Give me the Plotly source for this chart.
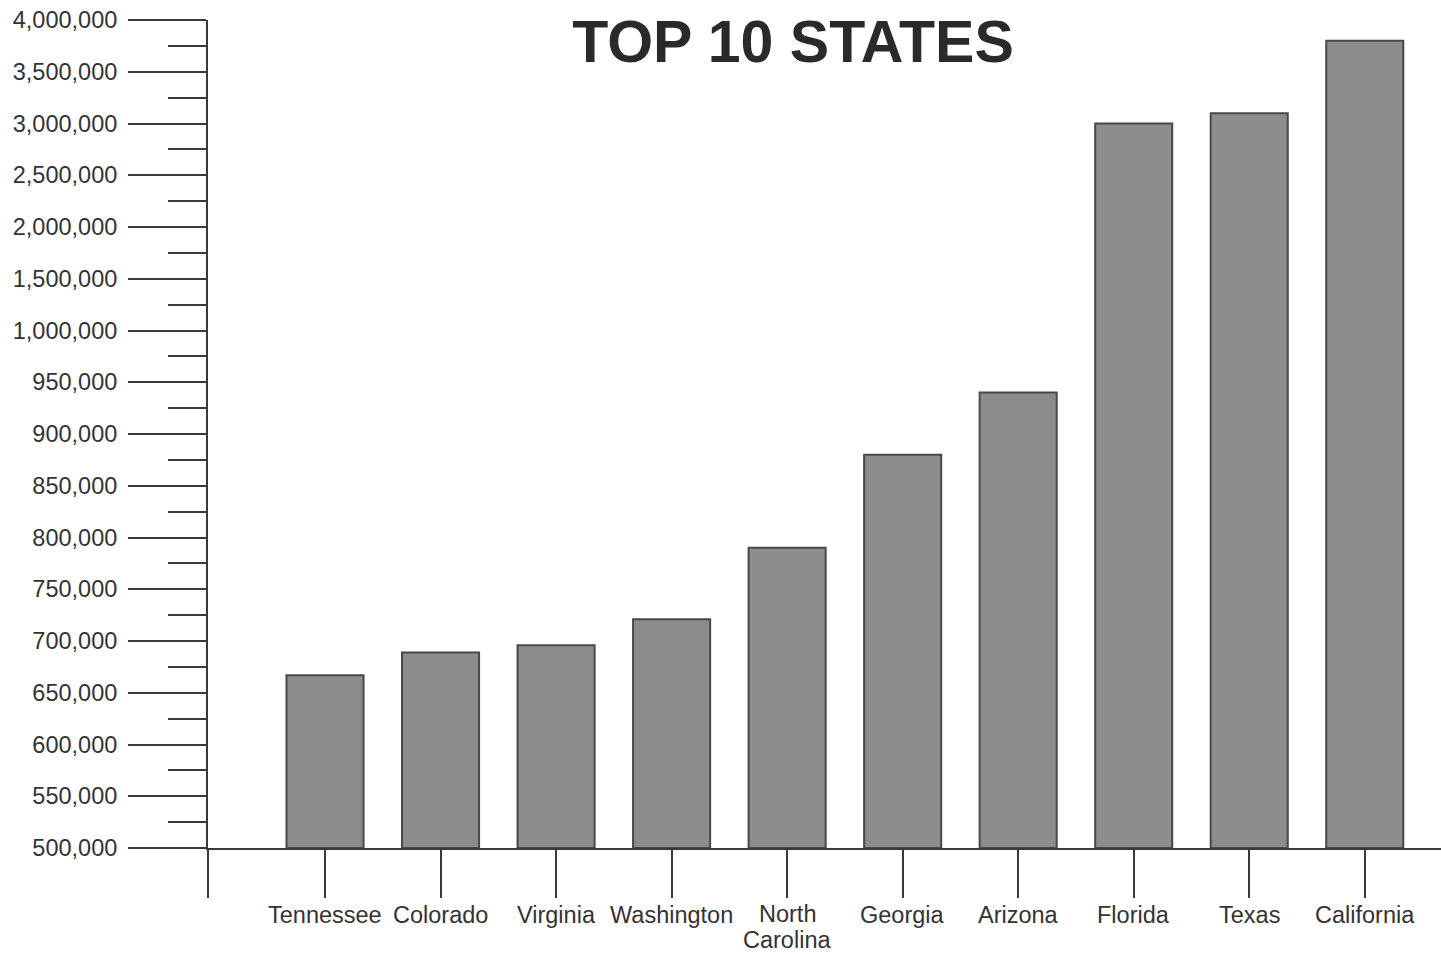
import plotly.graph_objects as go

states = ["Tennessee", "Colorado", "Virginia", "Washington", "North<br>Carolina",
          "Georgia", "Arizona", "Florida", "Texas", "California"]
values = [667000, 689000, 696000, 721000, 790000, 880000, 940000, 3000000, 3100000, 3800000]
tick_labels = ["500,000", "550,000", "600,000", "650,000", "700,000", "750,000", "800,000",
               "850,000", "900,000", "950,000", "1,000,000", "1,500,000", "2,000,000",
               "2,500,000", "3,000,000", "3,500,000", "4,000,000"]


def to_pos(v):
    # axis is broken: 50,000 steps up to 1,000,000, then 500,000 steps
    if v <= 1_000_000:
        return (v - 500_000) / 50_000
    return 10 + (v - 1_000_000) / 500_000


xpos = list(range(len(states)))
ypos = [to_pos(v) for v in values]

AX = "#3a3a3a"
TXT = "#333333"
FONT = "Liberation Sans, Arial, sans-serif"

fig = go.Figure(go.Bar(
    x=xpos, y=ypos, width=0.667,
    marker=dict(color="#8c8c8c", line=dict(color="#484848", width=2)),
    customdata=values,
    hovertemplate="%{customdata:,}<extra></extra>",
))

fig.update_layout(
    width=1441, height=954,
    margin=dict(l=208, r=0, t=20, b=106),
    paper_bgcolor="white", plot_bgcolor="white",
    showlegend=False,
    font=dict(family=FONT, color=TXT, size=23.5),
    title=dict(text="<b>TOP 10 STATES</b>", x=793 / 1441, xanchor="center",
               y=1 - 41 / 954, yanchor="middle",
               font=dict(family=FONT, size=59, color="#2a2a2a")),
)

fig.update_yaxes(
    range=[0, 16], tickmode="array", tickvals=list(range(len(tick_labels))),
    ticktext=tick_labels, ticks="outside", ticklen=78, tickwidth=2, tickcolor=AX,
    showline=True, linecolor=AX, linewidth=2, showgrid=False, zeroline=False,
    ticklabelstandoff=6, automargin=False,
    minor=dict(tickmode="array", tickvals=[i + 0.5 for i in range(16)],
               ticks="outside", ticklen=38, tickwidth=2, tickcolor=AX, showgrid=False),
)

fig.update_xaxes(
    range=[-1.013, 9.66], tickmode="array", tickvals=xpos, ticktext=[""] * len(states),
    showticklabels=False,
    ticks="outside", ticklen=48, tickwidth=2, tickcolor=AX,
    showline=True, linecolor=AX, linewidth=2, showgrid=False, zeroline=False,
    automargin=False,
)

# category labels (tighter line spacing than tick labels allow)
for i, name in enumerate(states):
    lines = name.split("<br>")
    for j, line in enumerate(lines):
        fig.add_annotation(x=xpos[i], xref="x", y=0, yref="paper",
                           text=line, showarrow=False, yanchor="middle",
                           yshift=-(67 + 26 * j) if len(lines) == 1 else -(66 + 26 * j),
                           font=dict(family=FONT, size=23.5, color=TXT))

# extension of the vertical axis below the baseline
fig.add_shape(type="line", xref="paper", yref="paper", x0=0, x1=0,
              y0=0, y1=-50 / 828, line=dict(color=AX, width=2))

fig.write_html("out.html",
               config={"displayModeBar": False, "responsive": False},
               default_width="1441px", default_height="954px",
               post_script="document.body.style.margin='0';document.body.style.overflow='hidden';")
